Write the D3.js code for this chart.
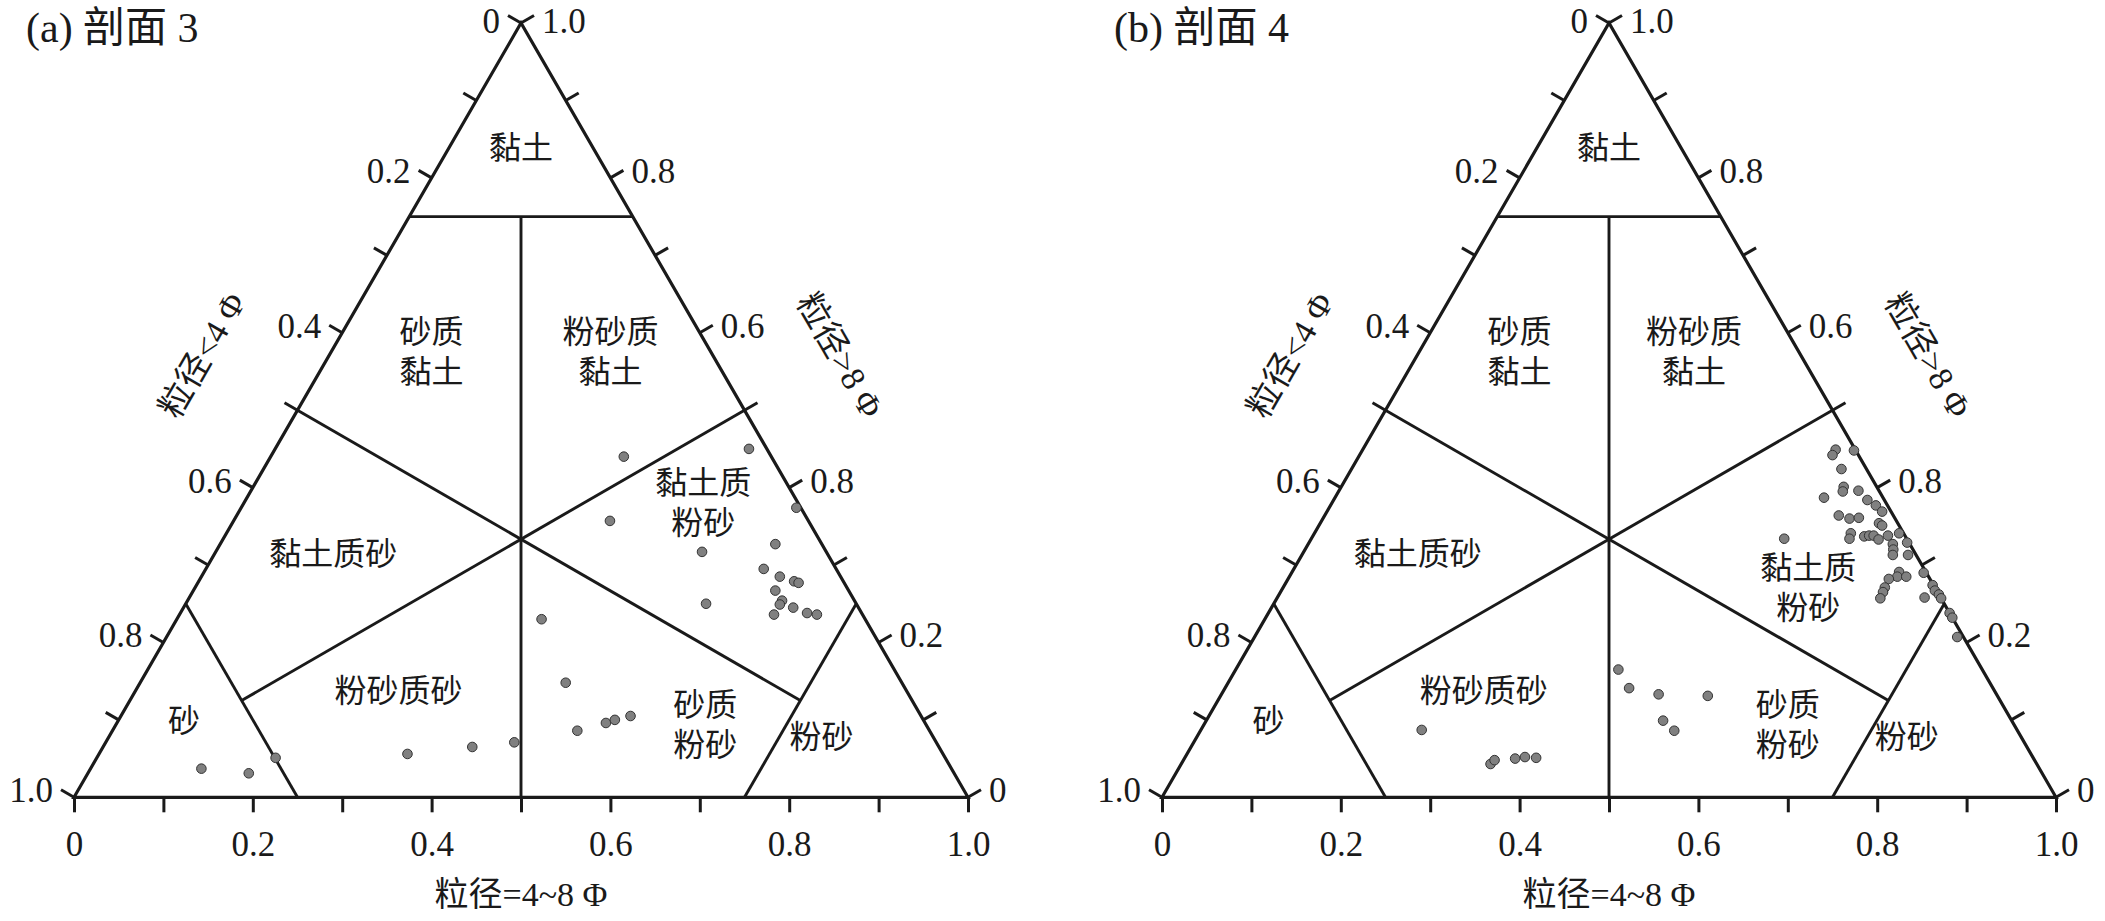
<!DOCTYPE html>
<html><head><meta charset="utf-8">
<script src="https://cdn.jsdelivr.net/npm/d3@7"></script>
<style>body{margin:0;background:#fff;overflow:hidden}</style>
</head><body>
<svg id="chart" width="2105" height="921"></svg>
<script>
// ---------------- data ----------------
const bottomTickLabels = ["0", "0.2", "0.4", "0.6", "0.8", "1.0"];        // 粒径=4~8Φ, left→right
const leftTickLabels   = ["0", "0.2", "0.4", "0.6", "0.8", "1.0"];        // 粒径<4Φ, apex→bottom-left
const rightTickLabels  = ["0", "0.2", "0.8", "0.6", "0.8", "1.0"];        // 粒径>8Φ, bottom-right→apex (as printed)

const panelTitles = ["(a) 剖面 3", "(b) 剖面 4"];
const axisTitleBottom = "粒径=4~8 Φ";
const axisTitleLeft = "粒径<4 Φ";
const axisTitleRight = "粒径>8 Φ";

// (a) 剖面3 : silt (4~8Φ) and clay (>8Φ) fractions
const siltA = [0.395,0.530,0.421,0.621,0.544,0.621,0.624,0.647,0.666,0.672,0.651,0.665,0.665,0.682,0.701,0.713,0.665,0.582,0.408,
               0.476,0.520,0.547,0.555,0.570,
               0.124,0.180,0.200,0.345,0.413,0.457];
const clayA = [0.440,0.450,0.357,0.374,0.317,0.327,0.295,0.285,0.279,0.277,0.267,0.254,0.249,0.245,0.238,0.236,0.236,0.250,0.230,
               0.148,0.086,0.096,0.100,0.105,
               0.037,0.031,0.051,0.056,0.065,0.071];

// (b) 剖面4
const siltB = [0.529,0.529,0.550,0.548,0.562,0.564,0.547,0.581,0.597,0.610,0.621,0.575,0.589,0.599,0.625,0.630,0.529,0.600,0.602,0.617,
               0.622,0.627,0.635,0.643,0.654,0.654,0.658,0.661,0.669,0.678,0.707,0.725,0.731,0.738,0.743,0.724,0.762,0.768,0.786,
               0.679,0.680,0.690,0.672,0.673,0.674,0.675,
               0.247,0.346,0.348,0.370,0.380,0.393,0.428,0.452,0.489,0.511,0.530,0.545];
const clayB = [0.449,0.442,0.448,0.424,0.401,0.395,0.387,0.396,0.384,0.377,0.369,0.364,0.360,0.361,0.354,0.351,0.334,0.341,0.334,0.337,
               0.338,0.338,0.333,0.338,0.327,0.341,0.320,0.313,0.329,0.313,0.290,0.274,0.267,0.262,0.257,0.258,0.238,0.232,0.207,
               0.291,0.285,0.285,0.282,0.271,0.265,0.257,
               0.087,0.043,0.048,0.050,0.052,0.051,0.165,0.141,0.133,0.099,0.086,0.131];

// classification region names
const regionNames = [["黏土"],["砂质","黏土"],["粉砂质","黏土"],["黏土质砂"],["黏土质","粉砂"],["粉砂质砂"],["砂质","粉砂"],["砂"],["粉砂"]];

// ---------------- layout ----------------
const panels = [
  {L: 74,   silt: siltA, clay: clayA, title: panelTitles[0],
   labelPos: [[0.5,0.839],[0.40,0.575],[0.60,0.575],[0.29,0.314],[0.704,0.380],[0.363,0.137],[0.706,0.093],[0.123,0.099],[0.836,0.078]]},
  {L: 1162, silt: siltB, clay: clayB, title: panelTitles[1],
   labelPos: [[0.5,0.839],[0.40,0.575],[0.595,0.575],[0.286,0.314],[0.723,0.270],[0.360,0.137],[0.700,0.093],[0.119,0.099],[0.833,0.078]]}
];
const W = 894, H = W * Math.sqrt(3) / 2, B = 797.3;
const ink = "#1a1a1a";
const latin = "'Liberation Serif','Times New Roman',serif";
const mixed = "'Liberation Serif','Noto Sans CJK SC',serif";

// boundary segments given as ternary (silt, clay)
const segs = [
  [[0,0.75],[0.25,0.75]], [[0.25,0],[0,0.25]], [[0.75,0],[0.75,0.25]],
  [[0.125,0.75],[0.5,0]], [[0,0.5],[0.75,0.125]], [[0.5,0.5],[0.125,0.125]]
];

const svg = d3.select("#chart");

panels.forEach(p => {
  const x = d3.scaleLinear().domain([0,1]).range([p.L, p.L + W]);
  const y = d3.scaleLinear().domain([0,1]).range([B, B - H]);
  const px = (s,c) => x(s + c/2), py = c => y(c);
  const g = svg.append("g");

  // title
  g.append("text").attr("x", p.L - 48).attr("y", 28).attr("dominant-baseline","central")
    .attr("font-family", mixed).attr("font-size", 42).attr("fill", ink).text(p.title);

  // region boundaries
  segs.forEach(sg => {
    g.append("line")
      .attr("x1", px(sg[0][0], sg[0][1])).attr("y1", py(sg[0][1]))
      .attr("x2", px(sg[1][0], sg[1][1])).attr("y2", py(sg[1][1]))
      .attr("stroke", ink).attr("stroke-width", 2.9);
  });

  // triangle
  g.append("path")
    .attr("d", d3.line()([[px(0,0),py(0)],[px(1,0),py(0)],[px(0,1),py(1)]]) + "Z")
    .attr("fill","none").attr("stroke", ink).attr("stroke-width", 3.2).attr("stroke-linejoin","miter");

  // bottom axis
  const ax = d3.axisBottom(x).tickValues(d3.range(11).map(i => i/10)).tickSize(15).tickPadding(19)
    .tickFormat((d,i) => i % 2 === 0 ? bottomTickLabels[i/2] : "");
  const ag = g.append("g").attr("transform", `translate(0,${B})`).call(ax);
  ag.select(".domain").remove();
  ag.selectAll(".tick line").attr("stroke", ink).attr("stroke-width", 3);
  ag.selectAll(".tick text").attr("fill", ink).attr("font-family", latin).attr("font-size", 35);

  const tl = 15;
  const nL = [-Math.sqrt(3)/2, -0.5], nR = [Math.sqrt(3)/2, -0.5];
  d3.range(11).forEach(i => {
    const v = i/10;
    // left side: sand = v at clay = 1-v, silt = 0
    const lx = px(0, 1 - v), ly = py(1 - v);
    g.append("line").attr("x1", lx).attr("y1", ly).attr("x2", lx + nL[0]*tl).attr("y2", ly + nL[1]*tl)
      .attr("stroke", ink).attr("stroke-width", 3);
    if (i % 2 === 0) {
      g.append("text").attr("x", lx + nL[0]*tl - 8).attr("y", Math.max(21, ly + nL[1]*tl + 1))
        .attr("text-anchor","end").attr("dominant-baseline","central")
        .attr("font-family", latin).attr("font-size", 35).attr("fill", ink).text(leftTickLabels[i/2]);
    }
    // right side: clay = v, sand = 0
    const rx = px(1 - v, v), ry = py(v);
    g.append("line").attr("x1", rx).attr("y1", ry).attr("x2", rx + nR[0]*tl).attr("y2", ry + nR[1]*tl)
      .attr("stroke", ink).attr("stroke-width", 3);
    if (i % 2 === 0) {
      g.append("text").attr("x", rx + nR[0]*tl + 8).attr("y", Math.max(21, ry + nR[1]*tl + 1))
        .attr("text-anchor","start").attr("dominant-baseline","central")
        .attr("font-family", latin).attr("font-size", 35).attr("fill", ink).text(rightTickLabels[i/2]);
    }
  });

  // axis titles
  g.append("text").attr("x", px(0.5,0)).attr("y", B + 97).attr("text-anchor","middle").attr("dominant-baseline","central")
    .attr("font-family", mixed).attr("font-size", 34).attr("fill", ink).text(axisTitleBottom);
  const off = 110;
  const mlx = px(0,0.5) + nL[0]*off, mly = py(0.5) + nL[1]*off;
  g.append("text").attr("transform", `translate(${mlx},${mly}) rotate(-60)`).attr("text-anchor","middle").attr("dominant-baseline","central")
    .attr("font-family", mixed).attr("font-size", 34).attr("fill", ink).text(axisTitleLeft);
  const mrx = px(0.5,0.5) + nR[0]*off, mry = py(0.5) + nR[1]*off;
  g.append("text").attr("transform", `translate(${mrx},${mry}) rotate(60)`).attr("text-anchor","middle").attr("dominant-baseline","central")
    .attr("font-family", mixed).attr("font-size", 34).attr("fill", ink).text(axisTitleRight);

  // region labels
  regionNames.forEach((lines, k) => {
    const [xf, c] = p.labelPos[k];
    const cx = x(xf), cy = y(c);
    const lh = 40;
    lines.forEach((s, j) => {
      g.append("text").attr("x", cx).attr("y", cy + (j - (lines.length-1)/2) * lh)
        .attr("text-anchor","middle").attr("dominant-baseline","central")
        .attr("font-family", mixed).attr("font-size", 32).attr("fill", ink).text(s);
    });
  });

  // points
  g.selectAll("circle").data(d3.range(p.silt.length)).join("circle")
    .attr("cx", i => px(p.silt[i], p.clay[i])).attr("cy", i => py(p.clay[i]))
    .attr("r", 4.8).attr("fill", "#808080").attr("stroke", "#333").attr("stroke-width", 1);
});
</script>
</body></html>
